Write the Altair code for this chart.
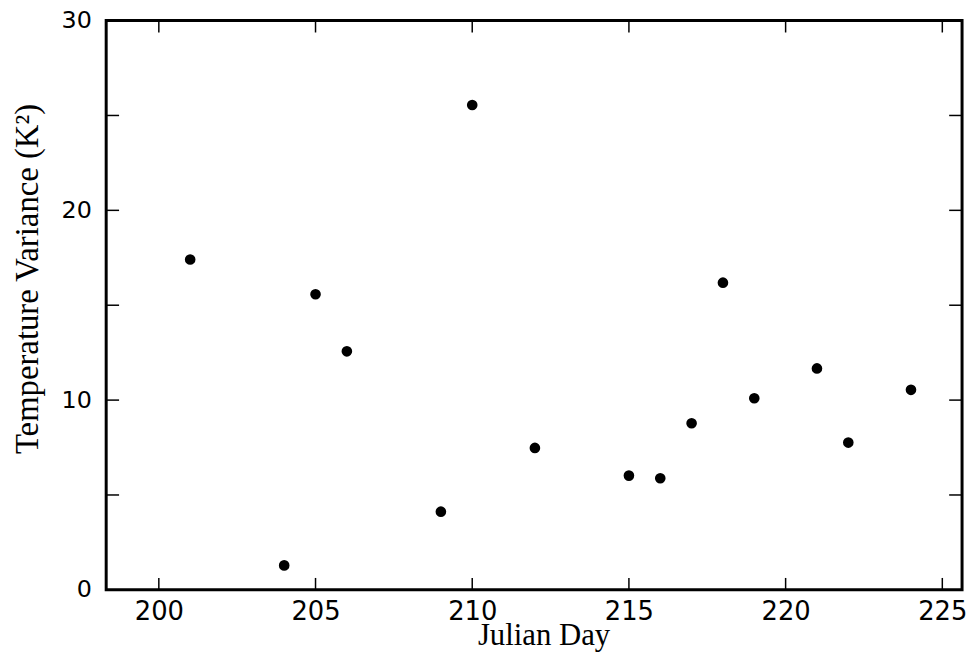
import altair as alt
import pandas as pd

days = [201, 204, 205, 206, 209, 210, 212, 215, 216, 217, 218, 219, 221, 222, 224]
variance = [17.41, 1.29, 15.58, 12.57, 4.12, 25.55, 7.48, 6.02, 5.88, 8.78, 16.19, 10.10, 11.67, 7.76, 10.54]
x_ticks = [200, 205, 210, 215, 220, 225]
y_ticks = [0, 10, 20, 30]
y_minor = [5, 10, 15, 20, 25]

W, H = 863, 574
X_DOM = [198.32, 225.63]
Y_DOM = [0, 30]

df = pd.DataFrame({"day": days, "var": variance})
xt = pd.DataFrame({"t": x_ticks})
yt = pd.DataFrame({"t": y_minor})

xs = alt.Scale(domain=X_DOM, nice=False, zero=False)
ys = alt.Scale(domain=Y_DOM, nice=False)

points = alt.Chart(df).mark_circle(size=115, color="black", opacity=1).encode(
    x=alt.X("day:Q", scale=xs, title="Julian Day",
            axis=alt.Axis(values=x_ticks, ticks=False, domain=False, grid=False,
                          labelFont="DejaVu Sans", labelFontSize=26, labelColor="black",
                          labelPadding=9, titleFont="Liberation Serif", titleFontSize=31,
                          titleFontWeight="normal", titleColor="black",
                          titleX=441, titleY=55, titleBaseline="alphabetic")),
    y=alt.Y("var:Q", scale=ys, title="Temperature Variance (K²)",
            axis=alt.Axis(values=y_ticks, ticks=False, domain=False, grid=False,
                          labelFont="DejaVu Sans", labelFontSize=24, labelColor="black",
                          labelPadding=15, titleFont="Liberation Serif", titleFontSize=33,
                          titleFontWeight="normal", titleColor="black",
                          titleX=-79, titleY=260, titleAngle=-90,
                          titleAlign="center", titleBaseline="middle")),
)

tick_len = 12
bottom = alt.Chart(xt).mark_rule(color="black", strokeWidth=1.5).encode(
    x=alt.X("t:Q", scale=xs), y=alt.value(H), y2=alt.value(H - tick_len))
top = alt.Chart(xt).mark_rule(color="black", strokeWidth=1.5).encode(
    x=alt.X("t:Q", scale=xs), y=alt.value(0), y2=alt.value(tick_len))
left = alt.Chart(yt).mark_rule(color="black", strokeWidth=1.5).encode(
    y=alt.Y("t:Q", scale=ys), x=alt.value(0), x2=alt.value(tick_len + 1))
right = alt.Chart(yt).mark_rule(color="black", strokeWidth=1.5).encode(
    y=alt.Y("t:Q", scale=ys), x=alt.value(W), x2=alt.value(W - tick_len - 1))

chart = alt.layer(bottom, top, left, right, points).properties(
    width=W, height=H,
    autosize=alt.AutoSizeParams(type="none"),
    padding={"left": 99, "top": 10, "right": 7, "bottom": 64},
).configure(
    background="white",
    view=alt.ViewConfig(stroke="black", strokeWidth=3),
)

chart.save("out.html", embed_options={"renderer": "svg", "actions": False})
